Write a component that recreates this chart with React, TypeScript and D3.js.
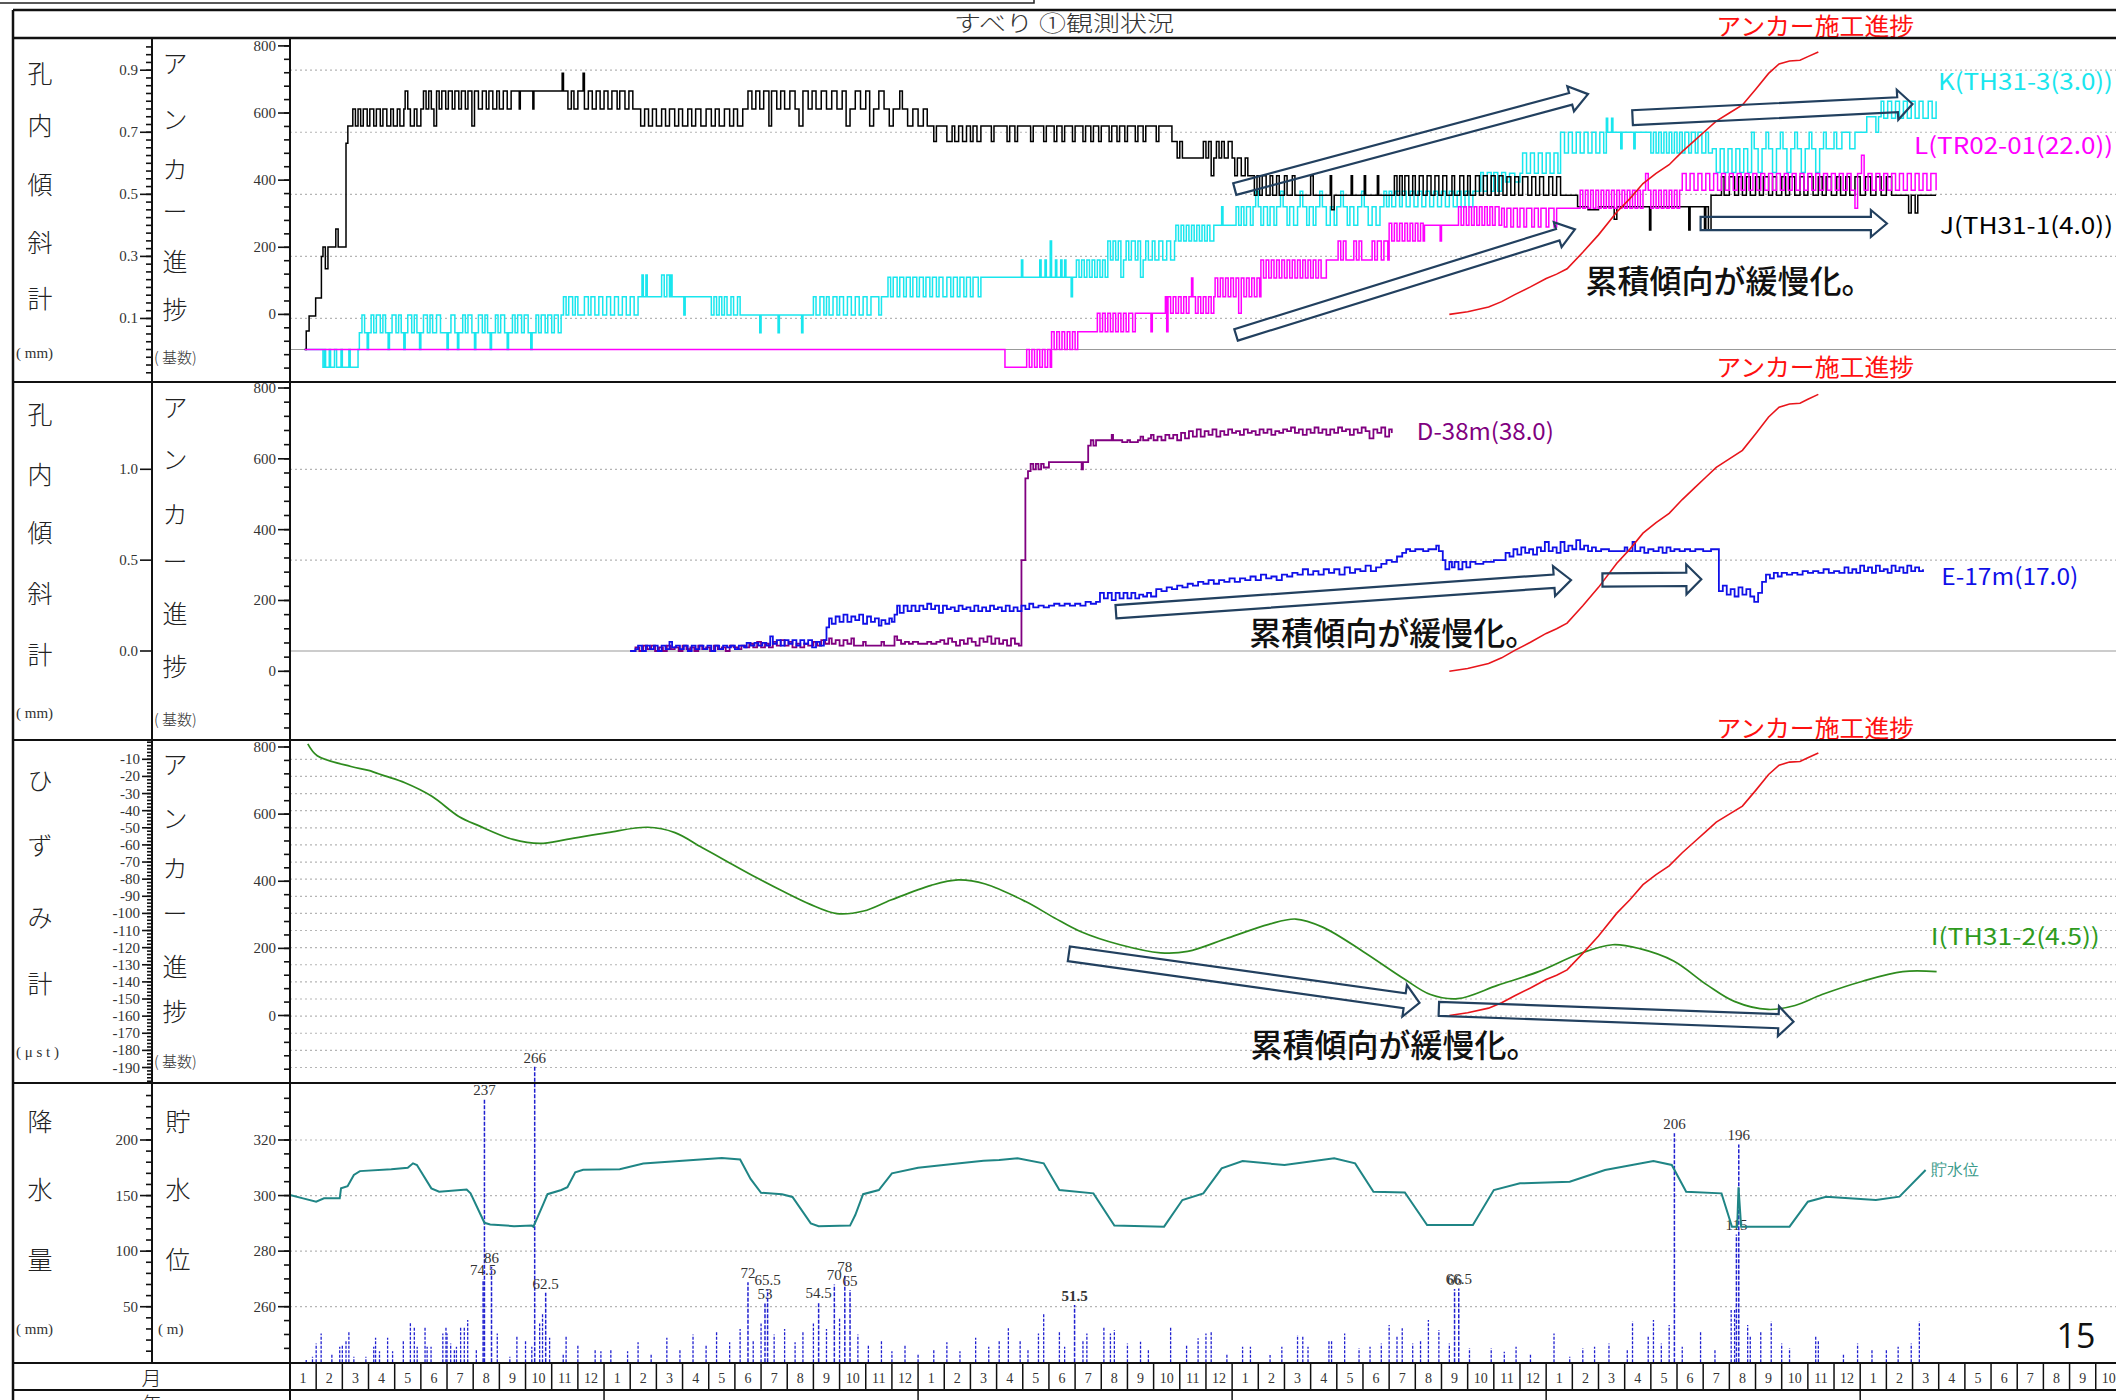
import React from 'react';
import * as d3 from 'd3';

// ---------------- DATA ----------------
const monthLabels = [1,2,3,4,5,6,7,8,9,10,11,12];

// Panel 1: inclinometer J (black), K (cyan), L (magenta)  [month, mm]
const seriesJ: [number, number][] = [
[0.56,0],[0.62,0.06],[0.73,0.108],[0.9,0.108],[0.98,0.166],[1.1,0.166],[1.2,0.3],[1.26,0.33],[1.35,0.26],[1.45,0.33],[1.6,0.33],[1.75,0.388],[1.84,0.33],[2.09,0.33],[2.14,0.665],[2.21,0.72],
[2.4,0.775],[2.5,0.72],[2.6,0.775],[2.7,0.72],[2.8,0.775],[2.95,0.72],[3.05,0.775],[3.2,0.72],[3.3,0.775],[3.45,0.72],[3.55,0.775],[3.7,0.72],[3.85,0.775],[3.95,0.72],[4.1,0.775],[4.2,0.72],[4.35,0.775],[4.4,0.833],[4.5,0.775],[4.6,0.72],[4.75,0.775],[4.85,0.72],[5.0,0.775],
[5.1,0.833],[5.2,0.775],[5.3,0.833],[5.4,0.775],[5.5,0.72],[5.6,0.833],[5.7,0.775],[5.8,0.833],[5.95,0.775],[6.05,0.833],[6.2,0.775],[6.3,0.833],[6.45,0.775],[6.55,0.833],[6.7,0.775],[6.8,0.833],[6.95,0.72],[7.05,0.833],[7.2,0.775],[7.35,0.833],[7.5,0.775],[7.6,0.833],[7.75,0.775],[7.9,0.833],[8.0,0.775],[8.15,0.833],[8.3,0.775],[8.45,0.833],
[8.74,0.833],[8.76,0.775],[8.8,0.833],[9.26,0.833],[9.28,0.775],[9.32,0.833],[10.36,0.833],[10.4,0.89],[10.45,0.833],[10.62,0.775],[10.75,0.833],[10.85,0.775],[11.0,0.833],[11.15,0.833],[11.2,0.89],[11.25,0.775],[11.4,0.833],[11.55,0.775],[11.7,0.833],[11.85,0.775],[12.0,0.833],[12.15,0.775],[12.3,0.833],[12.5,0.775],[12.6,0.833],[12.8,0.775],[12.95,0.833],[13.1,0.775],[13.3,0.775],
[13.4,0.72],[13.55,0.775],[13.7,0.72],[13.85,0.775],[14.0,0.72],[14.2,0.775],[14.35,0.72],[14.5,0.775],[14.7,0.72],[14.85,0.775],[15.0,0.72],[15.2,0.775],[15.35,0.72],[15.5,0.775],[15.7,0.72],[15.9,0.775],[16.1,0.72],[16.25,0.775],[16.4,0.72],[16.6,0.775],[16.8,0.72],[16.95,0.775],[17.1,0.72],[17.3,0.775],
[17.5,0.833],[17.65,0.775],[17.8,0.833],[17.95,0.775],[18.1,0.833],[18.3,0.72],[18.4,0.833],[18.6,0.775],[18.75,0.833],[18.9,0.775],[19.1,0.833],[19.3,0.775],[19.45,0.72],[19.6,0.833],[19.8,0.775],[19.95,0.833],[20.1,0.775],[20.3,0.833],[20.5,0.775],[20.7,0.833],[20.9,0.775],[21.1,0.833],[21.25,0.72],[21.4,0.775],[21.6,0.833],[21.8,0.775],[22.0,0.833],[22.15,0.72],[22.3,0.775],[22.5,0.833],[22.7,0.775],[22.9,0.72],[23.05,0.775],[23.25,0.775],[23.3,0.833],[23.4,0.775],[23.6,0.72],[23.8,0.775],[24.0,0.72],[24.2,0.775],[24.35,0.72],
[24.5,0.72],[24.6,0.67],[24.7,0.72],[25.0,0.72],[25.1,0.67],[25.3,0.72],[25.4,0.67],[25.55,0.72],[25.7,0.67],[25.85,0.72],[26.0,0.67],[26.1,0.72],[26.25,0.67],[26.4,0.72],[26.7,0.72],[26.8,0.67],[26.9,0.72],[27.3,0.72],[27.4,0.67],[27.5,0.72],[27.7,0.67],[27.8,0.72],[28.2,0.72],[28.3,0.67],[28.4,0.72],[28.8,0.67],[28.9,0.72],[29.2,0.67],[29.3,0.72],[29.5,0.67],[29.6,0.72],[29.9,0.67],[30.0,0.72],[30.3,0.67],[30.4,0.72],[30.6,0.67],[30.7,0.72],[30.9,0.67],[31.0,0.72],[31.3,0.67],[31.4,0.72],[31.6,0.67],[31.7,0.72],[31.9,0.67],[32.0,0.72],[32.3,0.67],[32.4,0.72],[32.6,0.67],[32.7,0.72],[33.0,0.72],[33.1,0.67],[33.2,0.72],[33.5,0.72],[33.7,0.67],
[33.9,0.617],[34.0,0.67],[34.1,0.617],[34.8,0.617],[34.9,0.67],[35.0,0.617],[35.1,0.67],[35.2,0.56],[35.3,0.617],[35.4,0.67],[35.5,0.617],[35.6,0.67],[35.7,0.617],[35.85,0.67],[36.0,0.617],
[36.1,0.56],[36.2,0.617],[36.35,0.56],[36.5,0.617],[36.6,0.56],[36.8,0.56],
[36.85,0.497],[36.95,0.56],[37.05,0.497],[37.15,0.56],[37.3,0.497],[37.45,0.56],[37.55,0.497],[37.7,0.56],[37.8,0.497],[38.0,0.56],[38.1,0.497],[38.3,0.56],[38.4,0.497],[38.9,0.497],[39.0,0.56],[39.1,0.497],[39.7,0.497],[39.75,0.56],[39.8,0.45],[39.9,0.497],[40.5,0.497],[40.55,0.56],[40.6,0.497],[41.0,0.497],[41.05,0.56],[41.1,0.497],[41.5,0.497],[41.55,0.56],[41.6,0.497],[42.1,0.497],[42.2,0.56],[42.3,0.497],[42.4,0.56],[42.5,0.497],[42.6,0.56],[42.75,0.497],[42.9,0.56],[43.0,0.497],[43.15,0.56],[43.3,0.497],[43.45,0.56],[43.6,0.497],[43.75,0.56],[43.9,0.497],[44.05,0.56],[44.2,0.497],[44.4,0.56],[44.5,0.497],[44.7,0.56],[44.85,0.497],[45.0,0.56],[45.1,0.497],[45.3,0.56],[45.45,0.497],[45.6,0.56],[45.75,0.497],[45.9,0.56],[46.05,0.497],[46.2,0.56],
[46.35,0.497],[46.5,0.557],[46.65,0.497],[46.8,0.557],[46.95,0.497],[47.1,0.557],[47.3,0.497],[47.45,0.557],[47.6,0.497],[47.75,0.557],[47.9,0.497],[48.1,0.557],[48.25,0.497],[48.4,0.557],[48.55,0.497],[48.9,0.497],
[49.2,0.46],[49.5,0.46],[49.6,0.45],[50.0,0.46],[50.5,0.46],[50.6,0.42],[50.7,0.46],[51.2,0.46],[51.9,0.46],[51.95,0.385],[52.0,0.46],[52.5,0.46],[53.4,0.46],[53.45,0.385],[53.5,0.46],[54.0,0.46],[54.05,0.385],[54.1,0.46],[54.2,0.385],[54.3,0.497],[54.6,0.497],[54.7,0.557],[54.8,0.497],
[55.0,0.557],[55.2,0.497],[55.35,0.557],[55.5,0.497],[55.65,0.557],[55.8,0.497],[56.0,0.557],[56.15,0.497],[56.3,0.557],[56.5,0.497],[56.65,0.557],[56.8,0.497],[57.0,0.557],[57.15,0.497],[57.3,0.557],[57.5,0.497],[57.7,0.557],[57.85,0.497],[58.0,0.557],[58.2,0.497],[58.4,0.557],[58.55,0.497],[58.7,0.557],[58.9,0.497],[59.1,0.557],[59.25,0.497],[59.45,0.557],[59.6,0.497],[59.8,0.557],[60.0,0.497],[60.2,0.557],[60.4,0.497],[60.6,0.557],[60.8,0.497],[61.0,0.557],[61.2,0.497],[61.8,0.497],[61.85,0.44],[61.95,0.497],[62.1,0.44],[62.2,0.497],[62.9,0.497]
];

const seriesK: [number, number][] = [
[0.56,0],[1.24,0],[1.26,-0.057],[1.32,0],[1.36,-0.057],[1.45,-0.057],[1.5,0],[1.55,-0.057],[1.65,-0.057],[1.7,0],[1.78,-0.057],[1.9,-0.057],[1.95,0],[2.0,-0.057],[2.2,-0.057],[2.25,0],[2.3,-0.057],[2.5,-0.057],[2.6,0],
[2.65,0.054],[2.75,0.111],[2.85,0.054],[2.95,0],[3.0,0.054],[3.1,0.111],[3.2,0.054],[3.3,0.111],[3.45,0.054],[3.55,0.111],[3.65,0.054],[3.75,0],[3.8,0.054],[3.9,0.111],[4.05,0.054],[4.15,0.111],[4.25,0.054],[4.35,0],[4.4,0.054],[4.5,0.111],[4.65,0.054],[4.75,0.111],[4.85,0.054],[4.95,0],[5.0,0.054],[5.1,0.111],[5.25,0.054],[5.35,0.111],[5.45,0.054],[5.6,0.111],[5.75,0.054],[5.9,0.054],[6.0,0],[6.05,0.054],[6.15,0.111],[6.3,0.054],[6.4,0],[6.45,0.054],[6.6,0.111],[6.7,0.054],[6.8,0.111],[6.95,0.054],[7.05,0],[7.1,0.054],[7.2,0.111],[7.35,0.054],[7.45,0.111],[7.55,0.054],[7.65,0],[7.7,0.054],[7.85,0.111],[7.95,0.054],[8.05,0.111],[8.2,0.054],[8.3,0],[8.35,0.054],[8.5,0.111],[8.6,0.054],[8.7,0.111],[8.85,0.054],[8.95,0.111],[9.1,0.054],[9.2,0],[9.25,0.054],[9.4,0.111],[9.5,0.054],[9.6,0.111],[9.75,0.054],[9.85,0.111],[10.0,0.054],[10.1,0.111],[10.25,0.054],[10.36,0.111],
[10.45,0.17],[10.55,0.111],[10.65,0.17],[10.8,0.111],[10.9,0.17],[11.0,0.111],[11.2,0.111],[11.25,0.17],[11.4,0.111],[11.5,0.17],[11.65,0.111],[11.8,0.17],[11.95,0.111],[12.1,0.17],[12.25,0.111],[12.4,0.17],[12.55,0.111],[12.7,0.17],[12.85,0.111],[13.0,0.17],[13.15,0.111],[13.3,0.17],
[13.4,0.17],[13.45,0.24],[13.5,0.17],[13.6,0.24],[13.65,0.17],[14.1,0.17],[14.2,0.24],[14.3,0.17],[14.4,0.24],[14.5,0.17],[14.55,0.24],[14.6,0.17],[15.0,0.17],[15.05,0.111],[15.1,0.17],[16.0,0.17],[16.1,0.111],[16.2,0.17],[16.3,0.111],[16.4,0.17],[16.5,0.111],[16.6,0.17],[16.7,0.111],[16.85,0.17],[16.95,0.111],[17.1,0.17],[17.2,0.111],
[17.9,0.111],[17.95,0.054],[18.0,0.111],[18.6,0.111],[18.65,0.054],[18.7,0.111],[19.5,0.111],[19.55,0.054],[19.6,0.111],[19.9,0.111],
[20.0,0.17],[20.1,0.111],[20.25,0.17],[20.4,0.111],[20.5,0.17],[20.6,0.111],[20.75,0.17],[20.9,0.111],[21.0,0.17],[21.15,0.111],[21.3,0.17],[21.45,0.111],[21.6,0.17],[21.75,0.111],[21.9,0.17],[22.05,0.111],[22.2,0.17],[22.4,0.17],[22.5,0.111],[22.6,0.17],[22.8,0.17],
[22.85,0.233],[22.95,0.17],[23.05,0.233],[23.2,0.17],[23.3,0.233],[23.45,0.17],[23.55,0.233],[23.7,0.17],[23.8,0.233],[23.95,0.17],[24.05,0.233],[24.2,0.17],[24.3,0.233],[24.45,0.17],[24.55,0.233],[24.7,0.17],[24.8,0.233],[24.95,0.17],[25.1,0.233],[25.25,0.17],[25.35,0.233],[25.5,0.17],[25.6,0.233],[25.75,0.17],[25.85,0.233],[26.0,0.17],[26.1,0.233],[26.3,0.17],[26.4,0.233],[27.0,0.233],
[27.9,0.233],[27.95,0.288],[28.0,0.233],[28.6,0.233],[28.65,0.288],[28.7,0.233],[28.85,0.288],[28.9,0.233],[29.05,0.35],[29.1,0.233],[29.25,0.288],[29.3,0.233],[29.45,0.288],[29.5,0.233],[29.6,0.288],[29.65,0.233],[29.8,0.233],[29.85,0.17],[29.9,0.233],
[30.05,0.288],[30.15,0.233],[30.25,0.288],[30.35,0.233],[30.45,0.288],[30.55,0.233],[30.65,0.288],[30.75,0.233],[30.85,0.288],[30.95,0.233],[31.05,0.288],[31.15,0.233],
[31.25,0.35],[31.35,0.288],[31.45,0.35],[31.55,0.288],[31.65,0.35],[31.75,0.233],[31.85,0.288],[31.95,0.35],[32.05,0.288],[32.15,0.35],[32.3,0.288],[32.4,0.35],[32.5,0.233],[32.6,0.288],[32.7,0.35],[32.8,0.288],[32.95,0.35],[33.05,0.288],[33.2,0.35],[33.35,0.288],[33.5,0.35],[33.65,0.288],[33.8,0.35],
[33.85,0.40],[33.95,0.35],[34.05,0.40],[34.15,0.35],[34.25,0.40],[34.35,0.35],[34.45,0.40],[34.55,0.35],[34.65,0.40],[34.75,0.35],[34.85,0.40],[34.95,0.35],[35.05,0.40],[35.15,0.35],[35.3,0.40],
[35.55,0.40],[35.6,0.46],[35.65,0.40],[36.1,0.40],
[36.15,0.46],[36.25,0.40],[36.35,0.46],[36.45,0.40],[36.55,0.46],[36.7,0.40],[36.8,0.46],[36.9,0.51],[37.0,0.46],[37.1,0.40],[37.2,0.46],[37.35,0.40],[37.45,0.46],[37.6,0.40],[37.7,0.46],[37.85,0.51],[37.95,0.46],[38.1,0.40],[38.2,0.46],[38.35,0.40],[38.5,0.46],[38.6,0.51],[38.7,0.46],[38.85,0.40],[38.95,0.46],[39.1,0.40],[39.2,0.46],[39.35,0.51],[39.45,0.46],[39.6,0.40],[39.75,0.46],[39.9,0.40],[40.0,0.46],[40.15,0.51],[40.25,0.46],[40.4,0.40],[40.5,0.46],[40.65,0.40],[40.8,0.46],[40.95,0.51],[41.05,0.46],[41.2,0.40],[41.35,0.46],[41.5,0.40],[41.65,0.46],[41.8,0.51],[41.9,0.46],
[42.0,0.51],[42.1,0.46],[42.25,0.51],[42.4,0.46],[42.5,0.51],[42.65,0.46],[42.8,0.51],[42.95,0.46],[43.1,0.51],[43.25,0.46],[43.4,0.51],[43.55,0.46],[43.7,0.51],[43.85,0.46],[44.0,0.51],[44.15,0.46],[44.3,0.51],[44.45,0.46],[44.6,0.51],[44.75,0.46],[44.9,0.51],[45.05,0.46],[45.2,0.51],[45.4,0.51],
[45.5,0.57],[45.6,0.51],[45.75,0.57],[45.9,0.51],[46.0,0.57],[46.15,0.51],[46.3,0.57],[46.45,0.54],
[46.6,0.568],[46.8,0.54],[47.0,0.568],[47.1,0.633],[47.25,0.568],[47.4,0.633],[47.55,0.568],[47.7,0.633],[47.85,0.568],[48.0,0.633],[48.15,0.568],[48.3,0.633],[48.45,0.568],
[48.55,0.70],[48.7,0.633],[48.85,0.70],[49.0,0.633],[49.15,0.70],[49.3,0.633],[49.45,0.70],[49.6,0.633],[49.75,0.70],[49.9,0.633],[50.05,0.70],[50.2,0.633],[50.3,0.745],[50.35,0.70],[50.5,0.745],[50.55,0.70],
[50.8,0.70],[50.85,0.647],[50.9,0.70],[51.3,0.70],[51.35,0.647],[51.4,0.70],[51.9,0.70],
[52.0,0.633],[52.1,0.70],[52.2,0.633],[52.3,0.70],[52.4,0.633],[52.5,0.70],[52.6,0.633],[52.7,0.70],[52.8,0.633],[52.9,0.70],[53.0,0.633],[53.1,0.70],[53.2,0.633],[53.3,0.70],[53.45,0.633],[53.55,0.70],[53.7,0.633],[53.8,0.70],[53.95,0.633],[54.1,0.70],[54.2,0.633],
[54.35,0.647],[54.5,0.57],[54.65,0.647],[54.8,0.57],[54.95,0.647],[55.1,0.57],[55.25,0.647],[55.4,0.57],[55.55,0.647],[55.7,0.57],[55.85,0.70],[55.95,0.647],[56.1,0.57],[56.25,0.647],[56.4,0.70],[56.5,0.647],[56.65,0.57],[56.8,0.647],[56.95,0.70],[57.05,0.647],[57.2,0.57],[57.35,0.647],[57.5,0.70],[57.6,0.647],[57.75,0.57],[57.9,0.647],[58.05,0.70],[58.15,0.647],[58.3,0.57],[58.45,0.647],[58.6,0.70],[58.7,0.647],[58.85,0.647],[59.0,0.70],[59.1,0.647],[59.3,0.70],
[59.5,0.70],[59.6,0.647],[59.8,0.70],[60.2,0.70],
[60.25,0.75],[60.5,0.75],[60.6,0.70],[60.7,0.75],[60.8,0.80],[60.9,0.745],[61.05,0.80],[61.2,0.745],[61.35,0.80],[61.5,0.745],[61.65,0.80],[61.8,0.745],[61.95,0.80],[62.1,0.745],[62.25,0.80],[62.4,0.745],[62.6,0.80],[62.75,0.745],[62.9,0.80]
];

const seriesL: [number, number][] = [
[0.56,0],[27.3,0],[27.32,-0.057],[28.1,-0.057],
[28.15,0],[28.25,-0.057],[28.35,0],[28.45,-0.057],[28.55,0],[28.65,-0.057],[28.75,0],[28.85,-0.057],[28.95,0],[29.05,-0.057],
[29.1,0.057],[29.2,0],[29.3,0.057],[29.4,0],[29.5,0.057],[29.6,0],[29.7,0.057],[29.8,0],[29.9,0.057],[30.0,0],[30.1,0.057],[30.2,0.057],[30.8,0.057],
[30.85,0.117],[30.95,0.057],[31.05,0.117],[31.15,0.057],[31.25,0.117],[31.35,0.057],[31.45,0.117],[31.55,0.057],[31.65,0.117],[31.75,0.057],[31.85,0.117],[31.95,0.057],[32.05,0.117],[32.2,0.057],[32.3,0.117],[32.5,0.117],
[32.85,0.117],[32.9,0.057],[32.95,0.117],[33.4,0.117],
[33.45,0.17],[33.5,0.057],[33.55,0.17],[33.65,0.117],[33.75,0.17],[33.85,0.117],[33.95,0.17],[34.05,0.117],[34.15,0.17],[34.25,0.117],[34.35,0.17],[34.45,0.23],[34.5,0.17],[34.6,0.117],[34.7,0.17],[34.8,0.117],[34.9,0.17],[35.0,0.117],[35.1,0.17],[35.2,0.117],[35.3,0.17],
[35.35,0.23],[35.45,0.17],[35.55,0.23],[35.65,0.17],[35.75,0.23],[35.85,0.17],[35.95,0.23],[36.05,0.17],[36.15,0.23],[36.25,0.117],[36.35,0.23],[36.45,0.17],[36.55,0.23],[36.65,0.17],[36.75,0.23],[36.85,0.17],[36.95,0.23],[37.05,0.17],
[37.1,0.288],[37.2,0.23],[37.3,0.288],[37.4,0.23],[37.5,0.288],[37.6,0.23],[37.7,0.288],[37.8,0.23],[37.9,0.288],[38.0,0.23],[38.1,0.288],[38.2,0.23],[38.3,0.288],[38.4,0.23],[38.5,0.288],[38.6,0.23],[38.7,0.288],[38.8,0.23],[38.9,0.288],[39.0,0.23],[39.1,0.288],[39.2,0.23],[39.3,0.288],[39.4,0.23],[39.6,0.288],[40.0,0.288],
[40.05,0.35],[40.15,0.288],[40.25,0.35],[40.35,0.288],[40.6,0.288],[40.65,0.35],[40.75,0.288],[40.85,0.35],[40.95,0.288],[41.3,0.288],[41.35,0.35],[41.45,0.288],[41.55,0.35],[41.7,0.288],[41.8,0.35],[41.95,0.288],
[42.0,0.407],[42.1,0.35],[42.2,0.407],[42.3,0.35],[42.4,0.407],[42.5,0.35],[42.6,0.407],[42.7,0.35],[42.8,0.407],[42.9,0.35],[43.0,0.407],[43.1,0.35],[43.2,0.407],[43.3,0.35],
[43.35,0.40],[43.9,0.40],[43.95,0.35],[44.0,0.40],[44.6,0.40],
[44.65,0.46],[44.75,0.40],[44.85,0.46],[44.95,0.40],[45.05,0.46],[45.15,0.40],[45.25,0.46],[45.35,0.40],[45.45,0.46],[45.55,0.40],[45.65,0.46],[45.75,0.40],[45.85,0.46],[45.95,0.40],[46.05,0.46],[46.2,0.40],
[46.3,0.455],[46.4,0.395],[46.5,0.455],[46.65,0.395],[46.75,0.455],[46.9,0.395],[47.0,0.455],[47.15,0.395],[47.25,0.455],[47.45,0.395],[47.55,0.455],[47.7,0.395],[47.8,0.455],[48.0,0.395],[48.1,0.455],[48.3,0.395],[48.4,0.455],[49.2,0.455],
[49.3,0.513],[49.4,0.455],[49.5,0.513],[49.6,0.455],[49.7,0.513],[49.8,0.455],[49.9,0.513],[50.0,0.455],[50.1,0.513],[50.2,0.455],[50.3,0.513],[50.4,0.455],[50.5,0.513],[50.6,0.455],[50.7,0.513],[50.8,0.455],[50.9,0.513],[51.0,0.455],[51.1,0.513],[51.2,0.455],[51.3,0.513],[51.4,0.455],[51.5,0.513],[51.6,0.455],[51.7,0.513],[51.8,0.567],[51.9,0.513],[52.0,0.455],[52.1,0.513],[52.2,0.455],[52.3,0.513],[52.4,0.455],[52.5,0.513],[52.6,0.455],[52.7,0.513],[52.8,0.455],[52.9,0.513],[53.0,0.455],[53.1,0.513],
[53.2,0.567],[53.35,0.513],[53.5,0.567],[53.65,0.513],[53.8,0.567],[53.95,0.513],[54.1,0.567],[54.25,0.513],[54.4,0.567],[54.55,0.513],[54.7,0.567],[54.85,0.513],[55.0,0.567],[55.15,0.513],[55.3,0.567],[55.45,0.513],[55.6,0.567],[55.75,0.513],[55.9,0.567],[56.05,0.513],[56.2,0.567],[56.35,0.513],[56.5,0.567],[56.65,0.513],[56.8,0.567],[56.95,0.513],[57.1,0.567],[57.25,0.513],[57.4,0.567],[57.55,0.513],[57.7,0.567],[57.85,0.513],[58.0,0.567],[58.15,0.513],[58.3,0.567],[58.45,0.513],[58.6,0.567],[58.75,0.513],[58.9,0.567],[59.05,0.513],[59.2,0.567],[59.35,0.513],[59.5,0.567],[59.65,0.513],[59.8,0.455],[59.9,0.567],[60.05,0.626],[60.15,0.513],[60.3,0.567],[60.45,0.513],[60.6,0.567],[60.75,0.513],[60.9,0.567],[61.05,0.513],[61.2,0.567],[61.35,0.513],[61.5,0.567],[61.65,0.513],[61.8,0.567],[61.95,0.513],[62.1,0.567],[62.25,0.513],[62.4,0.567],[62.55,0.513],[62.7,0.567],[62.9,0.513]
];

// Panel 2: D-38m (purple), E-17m (blue)  [month, mm]
const seriesD: [number, number][] = [
[13.0,0],[13.2,0.02],[13.35,0.0],[13.5,0.03],[13.65,0.01],[13.8,0.03],[13.95,0.0],[14.1,0.02],[14.25,0.0],[14.4,0.03],[14.55,0.01],[14.7,0.02],[14.85,0.0],[15.0,0.03],[15.15,0.01],[15.3,0.02],[15.45,0.0],[15.6,0.03],[15.75,0.01],[15.9,0.02],[16.05,0.0],[16.2,0.03],[16.35,0.01],[16.5,0.02],[16.65,0.0],[16.8,0.03],[16.95,0.02],[17.1,0.01],[17.25,0.03],[17.4,0.02],[17.55,0.04],[17.7,0.02],[17.85,0.05],[18.0,0.02],[18.15,0.04],[18.3,0.02],[18.45,0.05],[18.6,0.03],[18.75,0.06],[18.9,0.03],[19.05,0.05],[19.2,0.02],[19.35,0.04],[19.5,0.02],[19.65,0.04],[19.8,0.03],
[20.0,0.05],[20.15,0.03],[20.3,0.06],[20.45,0.04],[20.6,0.07],[20.7,0.04],[20.85,0.06],[21.0,0.03],[21.15,0.06],[21.3,0.04],[21.45,0.07],[21.55,0.03],[21.8,0.03],[21.9,0.05],[22.0,0.03],[22.5,0.03],[22.6,0.05],[22.7,0.03],[23.0,0.03],
[23.1,0.08],[23.2,0.06],[23.35,0.04],[23.5,0.05],[23.65,0.04],[23.8,0.05],[24.0,0.04],[24.2,0.04],[24.35,0.05],[24.5,0.04],[24.7,0.05],[24.85,0.06],[25.0,0.04],[25.15,0.07],[25.3,0.05],[25.45,0.03],[25.6,0.06],[25.75,0.04],[25.9,0.07],[26.05,0.05],[26.2,0.03],[26.35,0.07],[26.5,0.05],[26.65,0.08],[26.8,0.04],[26.95,0.07],[27.1,0.04],[27.25,0.06],[27.4,0.03],[27.55,0.07],[27.7,0.04],[27.85,0.03],
[27.95,0.5],[28.1,0.95],[28.2,0.99],[28.3,1.03],[28.4,1.0],[28.5,1.03],[28.6,1.0],[28.7,1.03],[28.8,1.01],[29.0,1.04],[29.2,1.04],[30.2,1.04],[30.25,1.0],[30.3,1.04],[30.45,1.04],[30.5,1.13],[30.6,1.16],[30.7,1.13],[30.8,1.16],[31.0,1.16],
[31.3,1.16],[31.4,1.19],[31.45,1.16],[31.8,1.15],[32.0,1.16],[32.1,1.15],[32.4,1.16],[32.5,1.18],[32.6,1.16],[32.8,1.17],[32.9,1.19],[33.0,1.16],[33.15,1.18],[33.3,1.16],[33.45,1.19],[33.6,1.17],[33.75,1.19],[33.9,1.16],[34.05,1.2],[34.2,1.17],[34.35,1.21],[34.5,1.18],[34.65,1.22],[34.8,1.18],[34.95,1.21],[35.1,1.19],[35.25,1.22],[35.4,1.18],[35.55,1.21],[35.7,1.19],[35.85,1.22],[36.0,1.2],[36.15,1.21],[36.3,1.19],[36.45,1.22],[36.6,1.2],[36.75,1.21],[36.9,1.19],[37.05,1.22],[37.2,1.2],[37.35,1.22],[37.5,1.19],[37.65,1.21],[37.8,1.2],[37.95,1.22],[38.1,1.21],[38.25,1.23],[38.4,1.2],[38.55,1.22],[38.7,1.19],[38.85,1.22],[39.0,1.2],[39.15,1.23],[39.3,1.2],[39.45,1.22],[39.6,1.19],[39.75,1.22],[39.9,1.2],[40.05,1.23],[40.2,1.21],[40.35,1.22],[40.5,1.19],[40.65,1.22],[40.8,1.2],[40.95,1.23],[41.1,1.21],[41.25,1.17],[41.4,1.22],[41.55,1.2],[41.7,1.23],[41.85,1.18],[42.0,1.22],[42.1,1.2]
];

const seriesE: [number, number][] = [
[13.0,0],[13.2,0.01],[13.3,0.03],[13.45,0.0],[13.6,0.03],[13.75,0.01],[13.9,0.03],[14.05,0.0],[14.2,0.03],[14.35,0.01],[14.5,0.05],[14.6,0.02],[14.75,0.03],[14.9,0.01],[15.05,0.03],[15.2,0.0],[15.35,0.03],[15.5,0.01],[15.65,0.03],[15.8,0.01],[15.95,0.03],[16.1,0.0],[16.25,0.03],[16.4,0.01],[16.55,0.03],[16.7,0.02],[16.85,0.03],[17.0,0.01],[17.15,0.03],[17.35,0.02],
[17.45,0.045],[17.6,0.03],[17.75,0.045],[17.9,0.03],[18.05,0.045],[18.2,0.03],
[18.35,0.08],[18.45,0.04],[18.6,0.06],[18.75,0.03],[18.9,0.06],[19.05,0.04],[19.2,0.06],[19.35,0.03],[19.5,0.06],[19.65,0.04],[19.8,0.06],[19.95,0.02],[20.1,0.05],[20.25,0.03],[20.4,0.06],
[20.5,0.13],[20.6,0.18],[20.7,0.15],[20.85,0.19],[21.0,0.16],[21.15,0.2],[21.3,0.16],[21.45,0.19],[21.6,0.17],[21.75,0.2],[21.9,0.15],[22.05,0.19],[22.2,0.16],[22.35,0.18],[22.5,0.14],[22.6,0.17],[22.75,0.15],[22.9,0.18],[23.0,0.16],
[23.1,0.2],[23.2,0.25],[23.3,0.21],[23.45,0.25],[23.6,0.22],[23.75,0.25],[23.9,0.22],[24.05,0.25],[24.2,0.23],[24.35,0.26],[24.5,0.23],[24.65,0.25],[24.8,0.21],[24.95,0.25],[25.1,0.23],[25.25,0.24],[25.4,0.22],[25.55,0.25],[25.7,0.23],[25.85,0.24],[26.0,0.22],[26.15,0.25],[26.3,0.22],[26.45,0.24],[26.6,0.22],[26.75,0.25],[26.9,0.23],[27.05,0.24],[27.2,0.22],[27.35,0.25],[27.5,0.22],[27.65,0.24],[27.8,0.22],[27.95,0.25],
[28.1,0.23],[28.25,0.26],[28.4,0.24],[28.6,0.25],[28.8,0.24],[29.0,0.25],[29.2,0.26],[29.4,0.25],[29.6,0.26],[29.8,0.25],[30.0,0.26],[30.2,0.25],[30.4,0.27],[30.6,0.26],[30.8,0.27],
[30.95,0.32],[31.1,0.29],[31.25,0.32],[31.4,0.28],[31.55,0.32],[31.7,0.29],[31.85,0.32],[32.0,0.29],[32.15,0.32],[32.3,0.29],[32.45,0.31],[32.6,0.3],[32.75,0.32],[32.9,0.3],
[33.1,0.34],[33.3,0.33],[33.5,0.35],[33.7,0.34],[33.9,0.36],[34.1,0.35],[34.3,0.37],[34.5,0.36],[34.7,0.38],[34.9,0.37],[35.1,0.39],[35.3,0.37],[35.5,0.39],[35.7,0.38],[35.9,0.4],[36.1,0.38],[36.3,0.4],[36.5,0.39],[36.7,0.41],[36.9,0.39],[37.1,0.42],[37.3,0.4],[37.5,0.41],[37.7,0.39],[37.9,0.42],[38.1,0.41],[38.3,0.43],
[38.5,0.42],[38.7,0.45],[38.9,0.42],[39.1,0.44],[39.3,0.42],[39.5,0.45],[39.7,0.43],[39.9,0.45],[40.1,0.42],[40.3,0.46],[40.5,0.43],[40.7,0.45],[40.9,0.44],[41.1,0.47],[41.3,0.44],[41.5,0.46],
[41.7,0.48],[41.9,0.5],[42.1,0.49],[42.3,0.52],[42.5,0.54],[42.65,0.56],[42.8,0.55],[43.0,0.56],[43.3,0.55],[43.5,0.56],[43.8,0.58],[43.9,0.55],
[44.05,0.5],[44.15,0.45],[44.3,0.49],[44.4,0.46],[44.5,0.49],[44.65,0.45],[44.8,0.49],[44.95,0.46],[45.1,0.49],[45.3,0.48],[45.6,0.49],[46.0,0.5],[46.3,0.5],
[46.45,0.54],[46.6,0.52],[46.75,0.56],[46.9,0.53],[47.05,0.57],[47.2,0.54],[47.35,0.56],[47.5,0.53],[47.65,0.57],[47.8,0.55],[47.95,0.6],[48.1,0.55],[48.25,0.57],[48.4,0.54],[48.55,0.6],[48.7,0.55],[48.85,0.58],[49.0,0.56],[49.15,0.61],[49.3,0.56],[49.45,0.58],[49.6,0.55],[49.75,0.57],[49.9,0.55],[50.1,0.56],[50.4,0.55],[50.8,0.55],[51.0,0.57],[51.1,0.55],[51.3,0.6],[51.4,0.55],[51.6,0.57],[51.75,0.54],[51.9,0.56],[52.1,0.55],[52.3,0.57],[52.45,0.54],[52.6,0.57],[52.75,0.55],[52.9,0.56],[53.1,0.55],[53.3,0.56],[53.5,0.55],[53.7,0.56],[54.0,0.55],[54.3,0.56],[54.55,0.56],
[54.6,0.33],[54.75,0.36],[54.9,0.31],[55.05,0.34],[55.2,0.3],[55.35,0.35],[55.5,0.31],[55.65,0.34],[55.8,0.3],[55.95,0.27],[56.1,0.32],
[56.25,0.38],[56.4,0.42],[56.55,0.4],[56.7,0.43],[56.85,0.41],[57.0,0.43],[57.2,0.42],[57.4,0.43],[57.6,0.42],[57.8,0.44],[58.0,0.43],[58.2,0.44],[58.4,0.43],[58.6,0.45],[58.8,0.43],[59.0,0.44],[59.2,0.43],[59.4,0.46],[59.55,0.43],[59.7,0.45],[59.85,0.43],[60.0,0.47],[60.15,0.44],[60.3,0.46],[60.45,0.43],[60.6,0.47],[60.75,0.44],[60.9,0.45],[61.05,0.43],[61.2,0.47],[61.35,0.44],[61.5,0.46],[61.65,0.43],[61.8,0.47],[61.95,0.44],[62.1,0.46],[62.25,0.44],[62.4,0.45]
];

// Panel 3: strain gauge I (green) [month, μst]
const seriesI: [number, number][] = [
[0.68,-1],[1.04,-7.9],[2.33,-14.2],[3.0,-16.5],[3.62,-19.7],[4.39,-23.7],[5.42,-31.6],[6.45,-43.4],[7.23,-48.9],[8.52,-56.8],[9.55,-59.1],[10.58,-56.8],[12.13,-52.8],[13.67,-49.7],[14.71,-52.8],[15.74,-61.5],[16.8,-70.5],[17.8,-78.9],[18.8,-86.8],[19.86,-94.6],[20.89,-100.1],[21.92,-98.6],[22.96,-92.2],[24.5,-83.6],[25.53,-80.4],[26.57,-82.8],[28.11,-93.1],[29.2,-102.5],[30.18,-110.4],[31.72,-118.3],[33.27,-123.0],[34.3,-122.2],[35.85,-114.3],[37.4,-106.4],[38.43,-103.3],[39.46,-108],[41.0,-122.2],[42.55,-138],[43.58,-147.4],[44.62,-149.8],[46.16,-141.9],[47.71,-134],[49.25,-123.7],[50.54,-118.3],[51.58,-120.6],[52.87,-127.8],[54.16,-141.9],[55.19,-151.4],[56.48,-156.1],[57.51,-153.8],[58.54,-147.4],[60.09,-139.6],[61.63,-134],[62.92,-134]
];

// Anchor construction progress (red), shared by panels 1-3 [month, count]
const anchorProgress: [number, number][] = [
[44.3,0],[45.0,8],[45.8,22],[46.3,38],[46.8,59],[47.4,82],[48.0,107],[48.4,120],[48.8,136],[49.4,185],[50.0,237],[50.7,305],[51.2,345],[51.7,390],[52.2,420],[52.7,446],[53.2,485],[53.7,520],[54.1,548],[54.5,576],[55.0,600],[55.5,624],[56.0,670],[56.5,718],[56.9,746],[57.3,755],[57.7,757],[58.0,768],[58.4,782]
];

// Panel 4: reservoir water level [month, m]
const waterLevel: [number, number][] = [
[0,300.2],[0.5,299],[1.0,297.8],[1.3,299],[1.9,299],[1.95,302.6],[2.2,303.4],[2.44,307.4],[2.67,308.8],[3.87,309.5],[4.5,310],[4.7,311.6],[4.85,311],[5.4,302.6],[5.7,301.4],[6.75,302.2],[6.9,300.8],[7.43,290.2],[7.65,289.6],[8.56,289],[9.24,289.2],[9.3,288.8],[9.47,292.4],[9.69,297.2],[9.84,300.5],[10.37,302],[10.6,303],[10.9,308.4],[11.2,309.3],[12.6,309.5],[13.5,311.5],[15.0,312.5],[16.5,313.5],[17.2,313.0],[17.6,306],[18.0,301],[18.8,300.5],[19.2,299.5],[19.9,290],[20.2,289],[21.4,289.2],[21.6,293],[21.9,300.5],[22.5,302],[23.0,308],[24.0,310],[25.5,311.5],[26.5,312.5],[27.1,312.8],[27.8,313.4],[28.8,311.6],[29.4,302],[30.7,300.8],[31.5,289.2],[33.4,288.8],[34.1,298.4],[34.9,300.8],[35.6,309.8],[36.4,312.4],[38.0,311],[39.9,313.4],[40.7,311.6],[41.4,301.4],[42.6,301.1],[43.45,289.4],[45.2,289.4],[46.0,302],[47.0,304.4],[48.9,305],[50.25,309.2],[52.1,312.4],[52.8,311],[53.35,301.4],[54.7,300.8],[55.1,288.8],[55.3,288.8],[55.35,303],[55.45,288.8],[57.3,288.8],[58.0,297.8],[58.7,299.6],[60.6,298.4],[61.5,299.6],[62.5,309.2]
];

// Daily rainfall (small events) [month, mm]
const rainSmall: [number, number][] = [
[0.62,2],[0.86,5],[1.0,17],[1.19,26],[1.6,8],[1.9,14],[2.0,15],[2.14,20],[2.25,28],[2.44,5],[2.9,5],[3.2,14],[3.27,22],[3.42,10],[3.73,22],[3.92,10],[4.33,20],[4.6,35.6],[4.75,32],[4.86,14],[5.16,31],[5.24,14],[5.39,14],[5.84,26],[5.96,31],[6.0,26],[6.14,17],[6.28,11],[6.36,14],[6.52,32],[6.66,32],[6.79,38],[7.12,11],[7.92,26],[8.4,5],[8.67,23],[9.0,20],[9.24,14],[9.54,35],[9.65,44],[9.92,22],[10.44,8],[10.55,23],[11.0,15],[11.66,12],[11.88,10],[12.26,12],
[12.9,10],[13.3,18],[13.8,8],[14.4,22],[14.9,12],[15.4,25],[15.9,15],[16.3,28],[16.8,18],[17.2,30],[17.7,20],[18.0,35],[18.5,25],[18.9,30],[19.3,18],[19.6,28],[20.0,35],[20.5,30],[21.0,40],[21.7,25],[22.1,15],[22.6,20],[23.0,10],[23.5,15],[24.0,8],[24.6,12],[25.1,18],[25.6,10],[26.2,22],[26.7,14],[27.1,20],
[27.45,30.6],[27.9,20],[28.2,11],[28.6,26],[28.8,44],[29.4,27.6],[29.6,14],[30.3,20],[30.45,26],[31.1,32],[31.35,26],[31.5,29],[32.0,17],[32.5,18.6],[32.8,11],[33.65,32],[34.26,15.6],[34.7,21.6],[35.0,26],[35.2,27.6],[35.8,8],[36.4,14],[36.7,14],[37.45,6.6],[37.9,14],[38.5,24.6],[38.7,23],[38.9,14],[39.7,20],[39.8,20],[40.3,26],[40.85,12.6],[41.27,14],[41.7,17],[42.0,33.6],[42.3,23],[42.5,30.6],[42.9,17],[43.2,20],[43.5,38],[43.9,29],[44.3,17],[45.07,12.6],[45.9,12.6],[46.4,9.6],[46.85,14],[47.4,8],[48.3,26],[48.9,5],[49.4,12.6],[49.85,14],[50.4,17],[51.1,11],[51.3,36.6],[51.9,23],[52.1,38],[52.4,17],[52.7,33.6],[53.2,14],[53.9,27.6],[54.45,11],[55.07,47],[55.2,47],[55.7,33.6],[55.8,23],[56.2,27.6],[56.6,36.6],[57.0,17],[57.3,12.6],[58.3,23],[58.4,20],[59.36,8],[59.9,17],[60.45,11],[61.0,11],[61.45,14],[61.95,17],[62.26,36.6]
];

// Labelled rainfall peaks [month, mm]
const rainPeaks: [number, number][] = [
[7.38,74.5],[7.43,237],[7.7,86],[9.35,266],[9.77,62.5],[17.5,72],[18.15,53],[18.25,65.5],[20.2,54.5],[20.8,70],[21.2,78],[21.4,65],[29.98,51.5],[44.5,66],[44.66,66.5],[52.9,206],[55.27,115],[55.36,196]
];

// Series labels
const labelK = 'K(TH31-3(3.0))';
const labelL = 'L(TR02-01(22.0))';
const labelJ = 'J(TH31-1(4.0))';
const labelD = 'D-38m(38.0)';
const labelE = 'E-17m(17.0)';
const labelI = 'I(TH31-2(4.5))';
const anchorLabel = 'アンカー施工進捗';
const trendText = '累積傾向が緩慢化。';

// Annotation arrows in data coordinates: [tailMonth, tailVal, tipMonth, tipVal]
const arrowsP1: [number, number, number, number][] = [[36.1,0.517,49.6,0.823],[36.15,0.047,49.1,0.387],[51.3,0.747,62.0,0.791],[53.9,0.406,61.02,0.406]];
const arrowsP2: [number, number, number, number][] = [[31.56,0.216,48.95,0.391],[50.15,0.391,53.93,0.395]];
const arrowsP3: [number, number, number, number][] = [[29.76,-123.6,43.16,-152.2],[43.9,-155.7,57.45,-163.3]];

// ---------------- LAYOUT ----------------
const W = 2116, H = 1400;
const FL = 13, C1 = 152, C2 = 290, R = 2116;
const TOP = 10, TB = 38, P1B = 382, P2B = 740, P3B = 1083, P4B = 1363, MB = 1390;
const MONTH_W = 26.17;
const NM = 70;

const JP = "'Noto Sans CJK JP', 'Noto Sans', sans-serif";
const SERIF = "'Liberation Serif', 'DejaVu Serif', serif";
const NARROW = "'Liberation Sans Narrow', 'Noto Sans CJK JP', sans-serif";

function arrowPoly(x1: number, y1: number, x2: number, y2: number, sw: number, hw: number, hl: number) {
  const dx = x2 - x1, dy = y2 - y1;
  const len = Math.hypot(dx, dy);
  const ux = dx / len, uy = dy / len;
  const nx = -uy, ny = ux;
  const bx = x2 - ux * hl, by = y2 - uy * hl;
  const p = [
    [x1 + nx * sw, y1 + ny * sw], [bx + nx * sw, by + ny * sw], [bx + nx * hw, by + ny * hw],
    [x2, y2], [bx - nx * hw, by - ny * hw], [bx - nx * sw, by - ny * sw], [x1 - nx * sw, y1 - ny * sw]
  ];
  return p.map(q => q[0].toFixed(1) + ',' + q[1].toFixed(1)).join(' ');
}

function Axis({ x, scale, majors, minors, fmt, y0, y1, majorLen = 12, minorLen = 6, fs = 15 }: any) {
  const inRange = (v: number) => { const y = scale(v); return y >= y0 - 0.5 && y <= y1 + 0.5; };
  return (
    <g>
      {minors.filter(inRange).map((v: number, i: number) => (
        <line key={'m' + i} x1={x - minorLen} x2={x} y1={scale(v)} y2={scale(v)} stroke="#111" strokeWidth={1.6} />
      ))}
      {majors.filter(inRange).map((v: number, i: number) => (
        <g key={'M' + i}>
          <line x1={x - majorLen} x2={x} y1={scale(v)} y2={scale(v)} stroke="#111" strokeWidth={1.6} />
          <text x={x - majorLen - 2} y={scale(v)} textAnchor="end" dominantBaseline="central" fontFamily={SERIF} fontSize={fs} fill="#333">{fmt(v)}</text>
        </g>
      ))}
    </g>
  );
}

function VLabels({ cx, chars, ys, fs = 25 }: any) {
  return (
    <g>
      {chars.map((c: string, i: number) => (
        <text key={i} x={cx} y={ys[i]} textAnchor="middle" dominantBaseline="central" fontFamily={JP} fontWeight={300} fontSize={fs} fill="#222">{c}</text>
      ))}
    </g>
  );
}

export default function App() {
  const x = d3.scaleLinear().domain([0, NM]).range([C2, C2 + NM * MONTH_W]);

  const y1 = d3.scaleLinear().domain([0, 0.9]).range([349.5, 70.2]);
  const a1 = d3.scaleLinear().domain([0, 800]).range([314.4, 45.9]);
  const y2 = d3.scaleLinear().domain([0, 1]).range([651, 469.3]);
  const a2 = d3.scaleLinear().domain([0, 800]).range([671.3, 388]);
  const y3 = d3.scaleLinear().domain([-10, -190]).range([759.3, 1067.5]);
  const a3 = d3.scaleLinear().domain([0, 800]).range([1015.5, 747]);
  const wl = d3.scaleLinear().domain([260, 320]).range([1306.7, 1140]);
  const rn = d3.scaleLinear().domain([0, 200]).range([1362.3, 1140]);

  const mk = (ys: any, curve: any = d3.curveLinear) => d3.line<[number, number]>().x(d => x(d[0])).y(d => ys(d[1])).curve(curve);
  const step = d3.curveStepAfter;

  const range = (a: number, b: number, s: number) => d3.range(Math.round(a / s), Math.round(b / s) + 1).map(k => +(k * s).toFixed(4));

  const dotted = { stroke: '#b5b5b5', strokeWidth: 1.2, strokeDasharray: '2,3' };

  const gridLines = (vals: number[], sc: any) => vals.map((v, i) => (
    <line key={i} x1={C2} x2={R} y1={sc(v)} y2={sc(v)} {...dotted} />
  ));

  const arrows = (list: [number, number, number, number][], sc: any, dims: number[][]) => list.map((a, i) => (
    <polygon key={i} points={arrowPoly(x(a[0]), sc(a[1]), x(a[2]), sc(a[3]), dims[i][0], dims[i][1], dims[i][2])}
      fill="none" stroke="#22405f" strokeWidth={2.2} strokeLinejoin="miter" />
  ));

  const seriesLabel = (t: string, m: number, yPix: number, color: string, len: number) => (
    <text x={x(m)} y={yPix} fontFamily={NARROW} fontSize={23} fill={color} textLength={len} lengthAdjust="spacingAndGlyphs">{t}</text>
  );

  const fmt1 = (v: number) => v.toFixed(1);
  const fmt0 = (v: number) => String(v);

  const yearStarts = d3.range(0, 6).map(k => k * 12);

  return (
    <svg width={W} height={H} viewBox={`0 0 ${W} ${H}`} style={{ position: 'absolute', left: 0, top: 0, display: 'block', background: '#fff' }}>
      <rect x={0} y={0} width={W} height={H} fill="#fff" />
      <defs>
        <clipPath id="clipAll"><rect x={C2} y={TB} width={R - C2} height={P4B - TB} /></clipPath>
      </defs>

      {/* top-left box remnant */}
      <rect x={-3} y={-10} width={1037} height={13} fill="none" stroke="#222" strokeWidth={1.5} />

      {/* title */}
      <text x={1064} y={31} textAnchor="middle" fontFamily={JP} fontWeight={300} fontSize={22} fill="#333" textLength={220} lengthAdjust="spacingAndGlyphs">すべり ①観測状況</text>
      <text x={x(54.5)} y={TB - 3} fontFamily={JP} fontSize={24} fill="#ff1010" textLength={198} lengthAdjust="spacingAndGlyphs">{anchorLabel}</text>

      {/* ---------- grid lines ---------- */}
      {gridLines([0.1, 0.3, 0.5, 0.7, 0.9], y1)}
      <line x1={C2} x2={R} y1={y1(0)} y2={y1(0)} stroke="#999" strokeWidth={1} />
      {gridLines([0.5, 1.0], y2)}
      <line x1={C2} x2={R} y1={y2(0)} y2={y2(0)} stroke="#999" strokeWidth={1} />
      {gridLines(range(-190, -10, 10), y3)}
      {gridLines([260, 280, 300, 320], wl)}

      {/* ---------- Panel 1 ---------- */}
      <g clipPath="url(#clipAll)" fill="none">
        <path d={mk(y1, step)(seriesK) || ''} stroke="#19e6ee" strokeWidth={1.5} />
        <path d={mk(y1, step)(seriesJ) || ''} stroke="#000" strokeWidth={1.5} />
        <path d={mk(y1, step)(seriesL) || ''} stroke="#ff00ff" strokeWidth={1.5} />
        <path d={mk(a1)(anchorProgress) || ''} stroke="#e8151b" strokeWidth={1.6} />
      </g>
      {arrows(arrowsP1, y1, [[6, 13, 18], [6, 13, 18], [7.5, 15, 15], [6.7, 13.5, 16]])}
      <text x={x(49.5)} y={y1(0.182)} fontFamily={JP} fontWeight={500} fontSize={32} fill="#111">{trendText}</text>
      {seriesLabel(labelK, 62.97, y1(0.836), '#19e6ee', 175)}
      {seriesLabel(labelL, 62.06, y1(0.63), '#ff00ff', 199)}
      {seriesLabel(labelJ, 63.05, y1(0.372), '#000', 173)}
      <text x={x(54.5)} y={P1B - 6} fontFamily={JP} fontSize={24} fill="#ff1010" textLength={198} lengthAdjust="spacingAndGlyphs">{anchorLabel}</text>

      {/* ---------- Panel 2 ---------- */}
      <g clipPath="url(#clipAll)" fill="none">
        <path d={mk(y2, step)(seriesD) || ''} stroke="#800080" strokeWidth={1.8} />
        <path d={mk(y2, step)(seriesE) || ''} stroke="#1010e8" strokeWidth={1.8} />
        <path d={mk(a2)(anchorProgress) || ''} stroke="#e8151b" strokeWidth={1.6} />
      </g>
      {arrows(arrowsP2, y2, [[6.7, 15, 17], [6.7, 15, 15]])}
      <text x={x(36.65)} y={y2(0.033)} fontFamily={JP} fontWeight={500} fontSize={32} fill="#111">{trendText}</text>
      {seriesLabel(labelD, 43.06, y2(1.161), '#800080', 137)}
      {seriesLabel(labelE, 63.1, y2(0.363), '#1010e8', 137)}
      <text x={x(54.5)} y={P2B - 3} fontFamily={JP} fontSize={24} fill="#ff1010" textLength={198} lengthAdjust="spacingAndGlyphs">{anchorLabel}</text>

      {/* ---------- Panel 3 ---------- */}
      <g clipPath="url(#clipAll)" fill="none">
        <path d={mk(y3, d3.curveCatmullRom)(seriesI) || ''} stroke="#2e8b1e" strokeWidth={1.7} />
        <path d={mk(a3)(anchorProgress) || ''} stroke="#e8151b" strokeWidth={1.6} />
      </g>
      {arrows(arrowsP3, y3, [[7.5, 16, 15], [7, 15, 15]])}
      <text x={x(36.7)} y={y3(-183.9)} fontFamily={JP} fontWeight={500} fontSize={32} fill="#111">{trendText}</text>
      {seriesLabel(labelI, 62.7, y3(-118.5), '#2e9b1e', 169)}

      {/* ---------- Panel 4 ---------- */}
      <g>
        {rainSmall.map((d, i) => (
          <line key={i} x1={x(d[0])} x2={x(d[0])} y1={rn(0)} y2={rn(d[1])} stroke="#2020d0" strokeWidth={1.3} strokeDasharray="3,1.5" />
        ))}
        {rainPeaks.map((d, i) => (
          <g key={i}>
            <line x1={x(d[0])} x2={x(d[0])} y1={rn(0)} y2={rn(d[1])} stroke="#2020d0" strokeWidth={1.5} strokeDasharray="4,1.5" />
            <text x={x(d[0])} y={rn(d[1]) - 4} textAnchor="middle" fontFamily={SERIF} fontSize={15} fill="#333" fontWeight={d[1] === 51.5 ? 700 : 400}>{String(d[1])}</text>
          </g>
        ))}
        <path d={mk(wl)(waterLevel) || ''} fill="none" stroke="#1f8585" strokeWidth={2} />
        <text x={x(62.7)} y={wl(307.4)} fontFamily={SERIF} fontSize={16} fill="#3a9a8a">貯水位</text>
      </g>

      {/* ---------- frame & dividers ---------- */}
      <g stroke="#111" fill="none">
        <line x1={FL} x2={R} y1={TOP} y2={TOP} strokeWidth={2.5} />
        <line x1={FL} x2={R} y1={TB} y2={TB} strokeWidth={2.5} />
        <line x1={FL} x2={R} y1={P1B} y2={P1B} strokeWidth={2} />
        <line x1={FL} x2={R} y1={P2B} y2={P2B} strokeWidth={2} />
        <line x1={FL} x2={R} y1={P3B} y2={P3B} strokeWidth={2} />
        <line x1={FL} x2={R} y1={P4B} y2={P4B} strokeWidth={2} />
        <line x1={FL} x2={R} y1={MB} y2={MB} strokeWidth={2} />
        <line x1={FL} x2={FL} y1={TOP} y2={H} strokeWidth={2.5} />
        <line x1={C1} x2={C1} y1={TB} y2={P4B} strokeWidth={2} />
        <line x1={C2} x2={C2} y1={TB} y2={H} strokeWidth={2} />
        {d3.range(1, NM).map(i => (
          <line key={i} x1={x(i)} x2={x(i)} y1={P4B} y2={MB} strokeWidth={1.5} />
        ))}
        {yearStarts.map((m, i) => (
          <line key={'y' + i} x1={x(m)} x2={x(m)} y1={MB} y2={H} strokeWidth={1.5} />
        ))}
      </g>

      {/* month labels */}
      {d3.range(0, NM).map(i => (
        <text key={i} x={x(i + 0.5)} y={1383} textAnchor="middle" fontFamily={SERIF} fontSize={14} fill="#333">{monthLabels[i % 12]}</text>
      ))}
      <text x={(FL + C2) / 2} y={1377} textAnchor="middle" dominantBaseline="central" fontFamily={JP} fontWeight={300} fontSize={20} fill="#222">月</text>
      <text x={(FL + C2) / 2} y={1412} textAnchor="middle" fontFamily={JP} fontWeight={300} fontSize={20} fill="#222">年</text>

      {/* ---------- axes ---------- */}
      <Axis x={C1} scale={y1} majors={[0.1, 0.3, 0.5, 0.7, 0.9]} minors={range(-0.1, 1.0, 0.025)} fmt={fmt1} y0={TB + 4} y1={P1B - 4} />
      <Axis x={C2} scale={a1} majors={[0, 200, 400, 600, 800]} minors={range(-200, 800, 40)} fmt={fmt0} y0={TB + 4} y1={P1B - 4} />
      <Axis x={C1} scale={y2} majors={[0, 0.5, 1.0]} minors={[]} fmt={fmt1} y0={P1B + 4} y1={P2B - 4} />
      <Axis x={C2} scale={a2} majors={[0, 200, 400, 600, 800]} minors={range(-200, 800, 40)} fmt={fmt0} y0={P1B + 4} y1={P2B - 4} />
      <Axis x={C1} scale={y3} majors={range(-190, -10, 10)} minors={range(-200, 0, 2)} fmt={fmt0} y0={P2B + 2} y1={P3B - 2} majorLen={10} minorLen={5} fs={15} />
      <Axis x={C2} scale={a3} majors={[0, 200, 400, 600, 800]} minors={range(-200, 800, 40)} fmt={fmt0} y0={P2B + 4} y1={P3B - 4} />
      <Axis x={C1} scale={rn} majors={[50, 100, 150, 200]} minors={range(0, 250, 10)} fmt={fmt0} y0={P3B + 6} y1={P4B - 4} />
      <Axis x={C2} scale={wl} majors={[260, 280, 300, 320]} minors={range(240, 340, 5)} fmt={fmt0} y0={P3B + 6} y1={P4B - 4} />

      {/* ---------- row titles ---------- */}
      <VLabels cx={40} chars={['孔', '内', '傾', '斜', '計']} ys={[72, 124, 183, 241, 297]} />
      <text x={16} y={353} dominantBaseline="central" fontFamily={SERIF} fontSize={15} fill="#333">( mm)</text>
      <VLabels cx={175} chars={['ア', 'ン', 'カ', 'ー', '進', '捗']} ys={[62, 118, 168, 210, 260, 308]} />
      <text x={154} y={356} dominantBaseline="central" fontFamily={JP} fontWeight={300} fontSize={15} fill="#333">( 基数)</text>

      <VLabels cx={40} chars={['孔', '内', '傾', '斜', '計']} ys={[413, 473, 531, 592, 653]} />
      <text x={16} y={713} dominantBaseline="central" fontFamily={SERIF} fontSize={15} fill="#333">( mm)</text>
      <VLabels cx={175} chars={['ア', 'ン', 'カ', 'ー', '進', '捗']} ys={[406, 458, 513, 560, 612, 665]} />
      <text x={154} y={718} dominantBaseline="central" fontFamily={JP} fontWeight={300} fontSize={15} fill="#333">( 基数)</text>

      <VLabels cx={40} chars={['ひ', 'ず', 'み', '計']} ys={[779, 844, 916, 982]} />
      <text x={16} y={1052} dominantBaseline="central" fontFamily={SERIF} fontSize={15} fill="#333">( μ s t )</text>
      <VLabels cx={175} chars={['ア', 'ン', 'カ', 'ー', '進', '捗']} ys={[763, 817, 867, 912, 965, 1010]} />
      <text x={154} y={1060} dominantBaseline="central" fontFamily={JP} fontWeight={300} fontSize={15} fill="#333">( 基数)</text>

      <VLabels cx={40} chars={['降', '水', '量']} ys={[1120, 1188, 1258]} />
      <text x={16} y={1329} dominantBaseline="central" fontFamily={SERIF} fontSize={15} fill="#333">( mm)</text>
      <VLabels cx={178} chars={['貯', '水', '位']} ys={[1120, 1188, 1258]} />
      <text x={158} y={1329} dominantBaseline="central" fontFamily={SERIF} fontSize={15} fill="#333">( m)</text>

      {/* page number */}
      <text x={2076} y={1348} textAnchor="middle" fontFamily="'Open Sans', 'Liberation Sans', sans-serif" fontSize={34} fill="#111">15</text>
    </svg>
  );
}
